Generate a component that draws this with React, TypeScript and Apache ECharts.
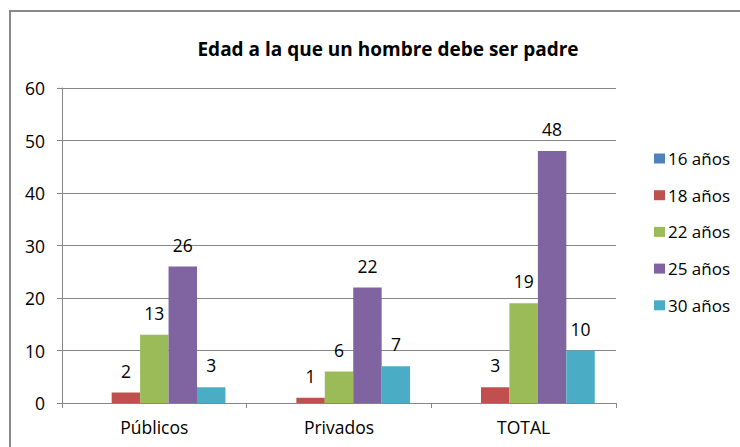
import React, { useEffect, useRef } from "react";
import * as echarts from "echarts";

const categories = ["Públicos", "Privados", "TOTAL"];
const seriesNames = ["16 años", "18 años", "22 años", "25 años", "30 años"];
const values16 = [0, 0, 0];
const values18 = [2, 1, 3];
const values22 = [13, 6, 19];
const values25 = [26, 22, 48];
const values30 = [3, 7, 10];
const colors = ["#4F81BD", "#C0504D", "#9BBB59", "#8064A2", "#4BACC6"];
const showLabels = [false, true, true, true, true];

const FONT = "'Open Sans', 'Noto Sans', sans-serif";

export default function App() {
  const ref = useRef<HTMLDivElement>(null);
  useEffect(() => {
    document.body.style.margin = "0";
    const chart = echarts.init(ref.current!, null, { renderer: "svg" });
    const data = [values16, values18, values22, values25, values30];
    chart.setOption({
      animation: false,
      backgroundColor: "#ffffff",
      textStyle: { fontFamily: FONT },
      title: {
        text: "Edad a la que un hombre debe ser padre",
        left: 383,
        top: 34,
        textAlign: "center",
        textStyle: { fontFamily: FONT, fontSize: 19, fontWeight: "bold", color: "#000" },
      },
      graphic: [
        {
          type: "rect",
          shape: { x: 10, y: 11, width: 800, height: 500 },
          style: { fill: "none", stroke: "#898989", lineWidth: 2 },
          silent: true,
        },
      ],
      legend: {
        orient: "vertical",
        left: 649,
        top: 145,
        itemWidth: 11,
        itemHeight: 10,
        itemGap: 19.7,
        icon: "rect",
        textStyle: { fontFamily: FONT, fontSize: 17, color: "#000", padding: [0, 0, 0, -2] },
        data: seriesNames,
      },
      grid: { left: 62, right: 124, top: 88, bottom: 44 },
      xAxis: {
        type: "category",
        data: categories,
        axisLine: { lineStyle: { color: "#868686" } },
        axisTick: { show: true, length: 5, lineStyle: { color: "#868686" } },
        axisLabel: { fontFamily: FONT, fontSize: 17.5, color: "#000", margin: 15 },
      },
      yAxis: {
        type: "value",
        min: 0,
        max: 60,
        interval: 10,
        axisLine: { show: true, lineStyle: { color: "#868686" } },
        axisTick: { show: true, length: 5, lineStyle: { color: "#868686" } },
        axisLabel: { fontFamily: FONT, fontSize: 17.5, color: "#000", margin: 17 },
        splitLine: { lineStyle: { color: "#868686" } },
      },
      series: seriesNames.map((name, i) => ({
        name,
        type: "bar",
        data: data[i],
        barGap: "0%",
        barCategoryGap: "23%",
        itemStyle: { color: colors[i] },
        label: {
          show: showLabels[i],
          position: "top",
          distance: 13,
          fontFamily: FONT,
          fontSize: 17.5,
          color: "#000",
        },
      })),
    });
    return () => chart.dispose();
  }, []);
  return <div ref={ref} style={{ width: 740, height: 447 }} />;
}
